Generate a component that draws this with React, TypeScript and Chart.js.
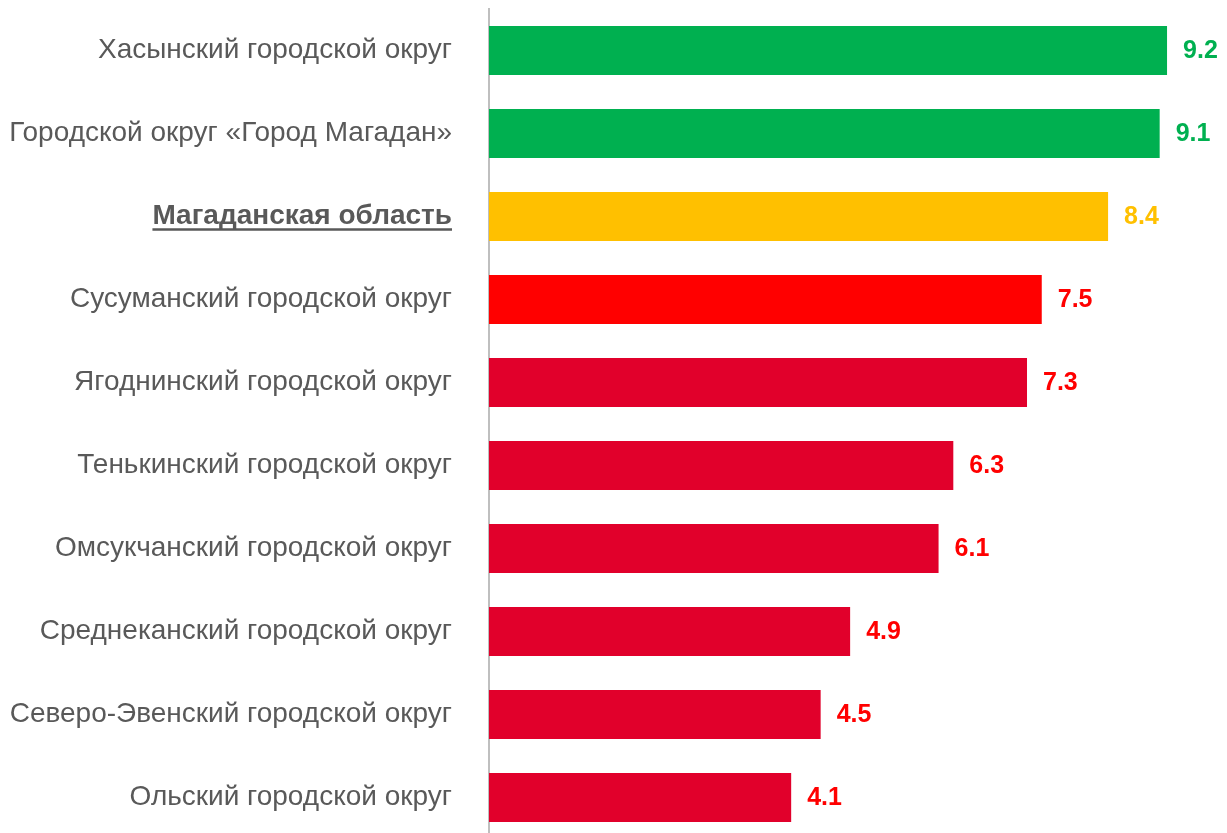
import React, { useEffect, useRef } from "react";
import { Chart, registerables } from "chart.js";

Chart.register(...registerables);

const categories = [
  "Хасынский городской округ",
  "Городской округ «Город Магадан»",
  "Магаданская область",
  "Сусуманский городской округ",
  "Ягоднинский городской округ",
  "Тенькинский городской округ",
  "Омсукчанский городской округ",
  "Среднеканский городской округ",
  "Северо-Эвенский городской округ",
  "Ольский городской округ",
];
const values = [9.2, 9.1, 8.4, 7.5, 7.3, 6.3, 6.1, 4.9, 4.5, 4.1];
const barColors = [
  "#00B050", "#00B050", "#FFC000", "#FF0000", "#E1002B",
  "#E1002B", "#E1002B", "#E1002B", "#E1002B", "#E1002B",
];
const labelColors = [
  "#00B050", "#00B050", "#FFC000", "#FF0000", "#FF0000",
  "#FF0000", "#FF0000", "#FF0000", "#FF0000", "#FF0000",
];
const highlightIndex = 2;
const FONT = "'Liberation Sans', Arial, sans-serif";
const LABEL_SIZE = 28;

export default function App() {
  const ref = useRef<HTMLCanvasElement>(null);
  useEffect(() => {
    if (!ref.current) return;
    const valueLabels = {
      id: "valueLabels",
      afterDatasetsDraw(chart: any) {
        const ctx = chart.ctx;
        const meta = chart.getDatasetMeta(0);
        ctx.save();
        ctx.font = `bold 25px ${FONT}`;
        ctx.textBaseline = "middle";
        ctx.textAlign = "left";
        meta.data.forEach((bar: any, i: number) => {
          ctx.fillStyle = labelColors[i];
          ctx.fillText(values[i].toFixed(1), bar.x + 16, bar.y + 1);
        });
        ctx.restore();
      },
    };
    const underline = {
      id: "underline",
      afterDraw(chart: any) {
        const y = chart.scales.y;
        const ctx = chart.ctx;
        const yy = y.getPixelForTick(highlightIndex);
        ctx.save();
        ctx.font = `bold ${LABEL_SIZE}px ${FONT}`;
        const w = ctx.measureText(categories[highlightIndex]).width;
        const right = chart.chartArea.left - 37;
        ctx.strokeStyle = "#595959";
        ctx.lineWidth = 2.5;
        ctx.beginPath();
        ctx.moveTo(right - w, yy + 13);
        ctx.lineTo(right, yy + 13);
        ctx.stroke();
        ctx.restore();
      },
    };
    const chart = new Chart(ref.current, {
      type: "bar",
      data: {
        labels: categories,
        datasets: [
          {
            data: values,
            backgroundColor: barColors,
            barPercentage: 0.59,
            categoryPercentage: 1,
          },
        ],
      },
      options: {
        indexAxis: "y",
        animation: false,
        responsive: false,
        layout: { padding: { top: 9, bottom: 1, right: 1, left: 0 } },
        plugins: { legend: { display: false }, tooltip: { enabled: false } },
        scales: {
          x: { display: false, min: 0, max: 10 },
          y: {
            grid: { display: false, drawTicks: false },
            border: { display: true, color: "#BFBFBF", width: 2 },
            afterFit: (s: any) => {
              s.width = 489;
              s.paddingTop = 0;
              s.paddingBottom = 0;
            },
            ticks: {
              padding: 37,
              color: "#595959",
              font: (c: any) => ({
                family: FONT,
                size: LABEL_SIZE,
                weight: c.index === highlightIndex ? "bold" : "normal",
              }),
            },
          },
        },
      },
      plugins: [valueLabels, underline],
    });
    return () => chart.destroy();
  }, []);
  return (
    <div style={{ position: "absolute", left: 0, top: 0 }}>
      <canvas ref={ref} width={1227} height={840} style={{ display: "block" }} />
    </div>
  );
}
